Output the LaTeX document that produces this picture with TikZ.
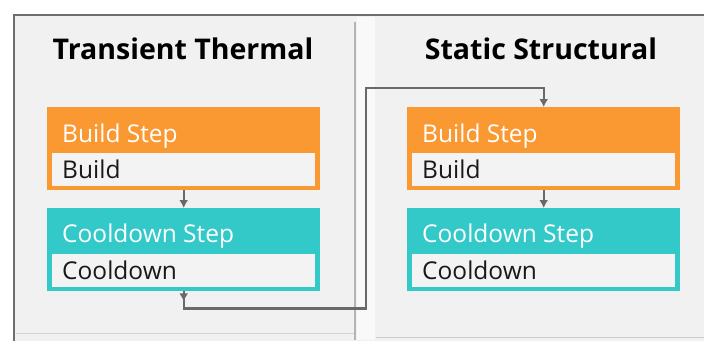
\documentclass[tikz,border=0pt]{standalone}
\usepackage{fontspec}
\setmainfont{Open Sans}
\usetikzlibrary{arrows.meta, positioning, calc}
\definecolor{buildorange}{RGB}{250,152,50}
\definecolor{coolteal}{RGB}{51,201,201}
\definecolor{panelgray}{RGB}{241,241,241}
\definecolor{framegray}{RGB}{110,110,110}
\definecolor{linegray}{RGB}{105,105,105}
\definecolor{dividergray}{RGB}{180,180,180}
\definecolor{innergray}{RGB}{243,243,243}

\tikzset{
  stepbox/.style={minimum width=273pt, minimum height=83pt, inner sep=0pt, anchor=north west},
  steptitle/.style={text=white, font=\fontsize{24.5}{28}\selectfont, anchor=base west, inner sep=0pt},
  stepbody/.style={fill=innergray, minimum width=263pt, minimum height=33pt, text width=243pt,
    inner xsep=10pt, inner ysep=0pt, align=left, anchor=south, font=\fontsize{24.5}{28}\selectfont, text=black!90},
  panelhead/.style={font=\fontsize{28.5}{32}\selectfont\bfseries, inner sep=0pt},
  conn/.style={draw=linegray, line width=2.4pt},
  arrowtip/.style={-{Latex[length=8pt,width=9pt]}}
}

\begin{document}
\begin{tikzpicture}[x=1pt,y=-1pt]
  \useasboundingbox (0,0) rectangle (704,340);
  \clip (0,0) rectangle (704,340);
  \fill[white] (0,0) rectangle (704,340);
  \draw[framegray, line width=2pt, fill=panelgray] (14,15) rectangle (720,360);
  % gap between the panels
  \fill[gray!5] (357,17) rectangle (375,340);
  \draw[dividergray, line width=2.5pt] (355,22) -- (355,340);
  \draw[gray!35, line width=1pt] (16,333) -- (354,333);
  \draw[gray!40, line width=1pt] (376,337) -- (704,337);

  \node[panelhead] (thermal) at (183,49) {Transient Thermal};
  \node[panelhead] (structural) at (541,49) {Static Structural};

  % transient thermal
  \node[stepbox, fill=buildorange] (tbuild) at (47,107) {};
  \node[steptitle] (tbuildtitle) at ($(tbuild.north west)+(15,35)$) {Build Step};
  \node[stepbody] (tbuildbody) at ($(tbuild.south)+(0,-4)$) {Build};
  \node[stepbox, fill=coolteal] (tcool) at (47,208) {};
  \node[steptitle] (tcooltitle) at ($(tcool.north west)+(15,34)$) {Cooldown Step};
  \node[stepbody] (tcoolbody) at ($(tcool.south)+(0,-4)$) {Cooldown};

  % static structural
  \node[stepbox, fill=buildorange] (sbuild) at (407,107) {};
  \node[steptitle] (sbuildtitle) at ($(sbuild.north west)+(15,35)$) {Build Step};
  \node[stepbody] (sbuildbody) at ($(sbuild.south)+(0,-4)$) {Build};
  \node[stepbox, fill=coolteal] (scool) at (407,208) {};
  \node[steptitle] (scooltitle) at ($(scool.north west)+(15,34)$) {Cooldown Step};
  \node[stepbody] (scoolbody) at ($(scool.south)+(0,-4)$) {Cooldown};

  \coordinate (bend) at (366,88);
  \draw[conn, arrowtip] (tbuild.south) -- (tcool.north);
  \draw[conn, arrowtip] (sbuild.south) -- (scool.north);
  \draw[conn, arrowtip] (tcool.south) -- ++(0,10);
  \draw[conn, arrowtip] (tcool.south) -- ++(0,17) -| (bend) -| (sbuild.north);
\end{tikzpicture}
\end{document}
